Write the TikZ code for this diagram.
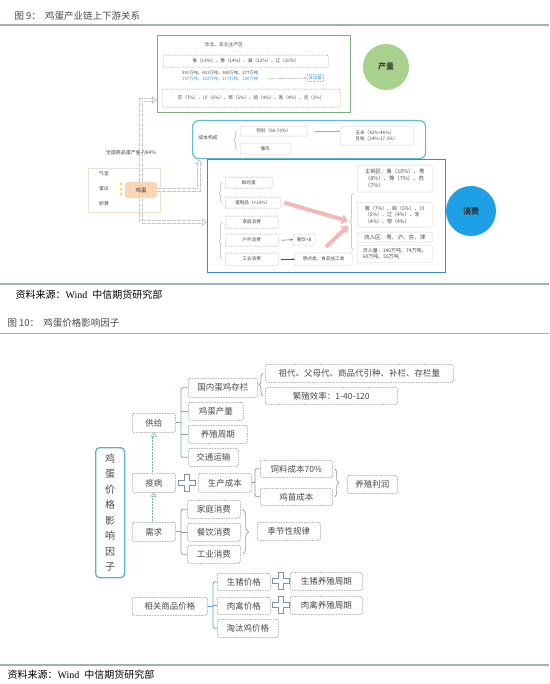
\documentclass[tikz,border=0pt]{standalone}
\usepackage{fontspec}
\setmainfont{Liberation Serif}
\newfontfamily\cjk{Noto Sans CJK SC}
\usetikzlibrary{arrows.meta,decorations.pathreplacing,positioning}

\definecolor{rulecol}{HTML}{9FB0C0}
\definecolor{boxgray}{HTML}{8F9BA5}
\definecolor{txtgray}{HTML}{4A4A4A}
\definecolor{tealc}{HTML}{5AB4C5}
\definecolor{greenbr}{HTML}{6FB98A}
\definecolor{bluebr}{HTML}{4AA8E0}
\definecolor{plusc}{HTML}{7B95A8}
\definecolor{prodgreen}{HTML}{A9D18E}
\definecolor{prodframe}{HTML}{7FB07A}
\definecolor{consblue}{HTML}{1EA0E6}
\definecolor{cyanframe}{HTML}{5BBFD0}
\definecolor{consframe}{HTML}{3A8CC8}
\definecolor{pinkarr}{HTML}{F4B8B8}
\definecolor{eggfill}{HTML}{FBD5B5}
\definecolor{flowblue}{HTML}{3A9AD9}

\tikzset{
  fbox/.style={draw=boxgray, dash pattern=on 1.6pt off 1pt, line width=0.6pt,
    rounded corners=1.5pt, inner sep=1pt, text=txtgray, anchor=north west,
    font=\cjk\fontsize{8.5}{10}\selectfont},
  sbox/.style={draw=boxgray, dash pattern=on 1pt off 0.8pt, line width=0.4pt,
    rounded corners=1pt, inner sep=1pt, text=txtgray, anchor=north west,
    font=\cjk\fontsize{4.6}{5.6}\selectfont},
  lbox/.style={draw=gray!35, line width=0.4pt, rounded corners=1pt, inner sep=1.5pt,
    text=txtgray, anchor=north west, align=left,
    font=\cjk\fontsize{4.6}{6}\selectfont},
  tiny/.style={text=txtgray, font=\cjk\fontsize{4.8}{6}\selectfont, inner sep=0pt},
  brk/.style={draw=boxgray, line width=0.8pt, rounded corners=2pt},
  brc/.style={draw=boxgray, line width=0.7pt, decorate, decoration={brace, amplitude=4pt}},
  sbrc/.style={draw=gray!60, line width=0.5pt, decorate, decoration={brace, amplitude=3pt}},
  dotarr/.style={draw=greenbr, line width=0.5pt, densely dotted, double=white,
    double distance=1.8pt, -{Triangle[open, length=4pt, width=6pt]}},
  eggarr/.style={draw=gray!45, line width=0.8pt, double=white, double distance=2.6pt,
    dash pattern=on 3.5pt off 1.5pt, -{Triangle[open, length=5pt, width=8pt]}},
  rulel/.style={draw=rulecol, line width=2pt},
  pluscross/.pic={
    \draw[plusc, line width=0.8pt] (-2.8,-8.5) -- (2.8,-8.5) -- (2.8,-2.8) -- (8.5,-2.8)
      -- (8.5,2.8) -- (2.8,2.8) -- (2.8,8.5) -- (-2.8,8.5) -- (-2.8,2.8) -- (-8.5,2.8)
      -- (-8.5,-2.8) -- (-2.8,-2.8) -- cycle;
  }
}

\begin{document}
\begin{tikzpicture}[x=1pt, y=-1pt]
\useasboundingbox[fill=white] (0,0) rectangle (549,684);

% headings and sources
\node[anchor=west, text=txtgray, font=\cjk\fontsize{9.5}{11}\selectfont] (title9) at (11,16) {图 9：\ \ 鸡蛋产业链上下游关系};
\draw[rulel] (0,25.5) -- (549,25.5);
\draw[rulel] (0,283.5) -- (549,283.5);
\node[anchor=west, font=\fontsize{10}{12}\selectfont] (src9) at (12,295) {{\cjk 资料来源：}Wind\ \ {\cjk 中信期货研究部}};
\node[anchor=west, text=txtgray, font=\cjk\fontsize{9.5}{11}\selectfont] (title10) at (4,323) {图 10：\ \ 鸡蛋价格影响因子};
\draw[draw=rulecol, line width=1pt] (0,333) -- (549,333);
\draw[rulel] (0,665) -- (549,665);
\node[anchor=west, font=\fontsize{10}{12}\selectfont] (src10) at (4,675) {{\cjk 资料来源：}Wind\ \ {\cjk 中信期货研究部}};

% ---- figure 9 ----
% production
\node[draw=prodframe, line width=1.2pt, minimum width=193, minimum height=77, anchor=north west] (prod) at (157,35) {};
\node[tiny] (prodtitle) at (224,45) {华北、东北主产区};
\node[sbox, minimum width=165, minimum height=12] (p1) at (163,55) {鲁（14\%）、豫（14\%）、冀（12\%）、辽（10\%）};
\node[tiny, anchor=west, font=\cjk\fontsize{4.3}{5}\selectfont] (p2) at (182,73) {391万吨、401万吨、340万吨、277万吨};
\node[tiny, anchor=west, text=flowblue, font=\cjk\fontsize{4.3}{5}\selectfont] (p3) at (182,79) {157万吨、162万吨、117万吨、130万吨};
\node[draw=flowblue!60, dash pattern=on 1pt off 0.8pt, line width=0.4pt, inner sep=1.5pt, text=flowblue, font=\cjk\fontsize{4.3}{5}\selectfont, anchor=west] (outflow) at (307,78) {流出量};
\draw[-{Stealth[length=2.5pt]}, draw=gray!70, line width=0.4pt] ([xshift=8pt]p3.east) -- (outflow.west);
\node[sbox, minimum width=178, minimum height=18] (p4) at (162,89) {苏（7\%）、川（6\%）、鄂（5\%）、皖（4\%）、黑（4\%）、吉（3\%）};
\node[circle, fill=prodgreen, minimum size=46, inner sep=0pt, text=black!75, font=\cjk\bfseries\fontsize{8}{9}\selectfont] (prodc) at (386,67) {产量};

% cost
\node[draw=cyanframe, line width=1.2pt, rounded corners=6pt, minimum width=233, minimum height=38, anchor=north west] (cost9) at (192,120) {};
\node[tiny] (costtitle) at (208,138) {成本构成};
\node[lbox, minimum width=67, minimum height=10] (c1) at (240,126) {饲料（60-70\%）};
\node[lbox, minimum width=50, minimum height=11] (c2) at (240,143) {雏鸡};
\node[lbox, minimum width=73, minimum height=19] (c3) at (340,126) {玉米（42\%-46\%）\\豆粕（14\%-17.5\%）};
\draw[sbrc] ([xshift=-3pt]c2.west) -- ([xshift=-3pt]c1.west);
\draw[-{Stealth[length=2.5pt]}, draw=gray!70, line width=0.4pt] ([xshift=8pt]c1.east) -- (c3.west |- c1.east);

% consumption
\node[draw=consframe, line width=1.3pt, minimum width=238, minimum height=113, anchor=north west] (cons) at (207,159) {};
\node[sbox, minimum width=47, minimum height=11] (d1) at (225,177) {鲜鸡蛋};
\node[sbox, minimum width=55, minimum height=11] (d2) at (225,197) {蛋制品（<10\%）};
\node[sbox, minimum width=53, minimum height=12] (d3) at (225,216) {家庭消费};
\node[sbox, minimum width=53, minimum height=12] (d4) at (225,234) {户外消费};
\node[sbox, minimum width=53, minimum height=12] (d5) at (225,253) {工业消费};
\node[lbox, minimum width=22, minimum height=11] (d6) at (293,234) {餐饮+B};
\node[lbox, minimum width=57, minimum height=12] (d7) at (295,253) {糕点类、食品加工类};
\draw[sbrc] ([xshift=-3pt]d2.west) -- ([xshift=-3pt]d1.west);
\draw[sbrc] ([xshift=-3pt]d5.west) -- ([xshift=-3pt]d3.west);
\draw[-{Stealth[length=2.5pt]}, draw=black!70, line width=0.4pt] ([xshift=3pt]d4.east) -- (d6.west);
\draw[-{Stealth[length=2.5pt]}, draw=black!70, line width=0.4pt] ([xshift=3pt]d5.east) -- (d7.west);
\node[lbox, minimum width=75, minimum height=27, font=\cjk\fontsize{5.4}{7}\selectfont] (r1) at (357,165) {主销区：鲁（10\%）、粤\\（8\%）、豫（7\%）、苏\\（7\%）};
\node[lbox, minimum width=75, minimum height=25, font=\cjk\fontsize{5}{6.5}\selectfont] (r2) at (357,202) {冀（7\%）、皖（5\%）、川\\（5\%）、辽（4\%）、浙\\（4\%）、鄂（4\%）};
\node[lbox, minimum width=75, minimum height=10, font=\cjk\fontsize{5.6}{6.5}\selectfont] (r3) at (357,232) {流入区：粤、沪、京、津};
\node[lbox, minimum width=75, minimum height=17, font=\cjk\fontsize{5}{6.5}\selectfont] (r4) at (357,245) {流入量：140万吨、74万吨、\\60万吨、55万吨};
\draw[sbrc] (353,250) -- (353,193);
\draw[draw=pinkarr, line width=4pt, -{Triangle[length=6pt, width=10pt]}] ([xshift=4pt]d2.east) -- (348,221);
\draw[draw=pinkarr, line width=4pt, -{Triangle[length=6pt, width=10pt]}] (326,247) -- (348,226);
\node[circle, fill=consblue, minimum size=50, inner sep=0pt, text=black!80, font=\cjk\bfseries\fontsize{8}{9}\selectfont] (consc) at (471,211) {消费};

% egg
\node[tiny, font=\cjk\fontsize{5}{6}\selectfont] (share) at (131,153) {全国商品蛋产量的84\%};
\node[draw=brown!25, line width=0.6pt, minimum width=72, minimum height=44, anchor=north west] (eggpart) at (88,168) {};
\node[tiny] (qishi) at (104,174) {气室};
\node[tiny] (danbai) at (104,189) {蛋白};
\node[tiny] (luanhuang) at (104,204) {卵黄};
\node[fill=eggfill, rounded corners=3pt, minimum width=32, minimum height=16, text=black!80, font=\cjk\fontsize{5.5}{6}\selectfont] (egg) at (141,190) {鸡蛋};
\foreach \dy in {184,189,194} \fill[yellow!80!orange] (121,\dy) circle (1.3);
\draw[eggarr] (egg.north) -- (141,100) -- (prod.west |- 0,100);
\draw[eggarr] (egg.east) -- (199,190) -- (cost9.south -| 199,0);
\draw[eggarr] (egg.south) -- (141,222) -- (cons.west |- 0,222);

% ---- figure 10 ----
\node[draw=tealc, line width=1.3pt, rounded corners=4pt, minimum width=29, minimum height=130, anchor=north west, align=center, text=black!70, font=\cjk\fontsize{10}{15.5}\selectfont] (factor) at (95,447) {鸡\\蛋\\价\\格\\影\\响\\因\\子};

\node[fbox, minimum width=43, minimum height=19] (gongji) at (132,413) {供给};
\node[fbox, minimum width=69, minimum height=19] (gn1) at (188,378) {国内蛋鸡存栏};
\node[fbox, minimum width=55, minimum height=18] (gn2) at (188,402) {鸡蛋产量};
\node[fbox, minimum width=59, minimum height=18] (gn3) at (188,425) {养殖周期};
\node[fbox, minimum width=50, minimum height=18] (gn4) at (188,448) {交通运输};
\node[fbox, minimum width=188, minimum height=18] (cl1) at (265,364) {祖代、父母代、商品代引种、补栏、存栏量};
\node[fbox, minimum width=132, minimum height=17] (cl2) at (265,387) {繁殖效率：1-40-120};

\node[fbox, minimum width=43, minimum height=19] (yibing) at (132,473) {疫病};
\pic at (187,483) {pluscross};
\node[fbox, minimum width=53, minimum height=19] (prodcost) at (198,473) {生产成本};
\node[fbox, minimum width=72, minimum height=17] (fc1) at (260,460) {饲料成本70\%};
\node[fbox, minimum width=72, minimum height=17] (fc2) at (260,488) {鸡苗成本};
\node[fbox, minimum width=50, minimum height=18] (profit) at (347,475) {养殖利润};

\node[fbox, minimum width=43, minimum height=19] (xuqiu) at (132,522) {需求};
\node[fbox, minimum width=53, minimum height=18] (dm1) at (187,500) {家庭消费};
\node[fbox, minimum width=53, minimum height=18] (dm2) at (187,523) {餐饮消费};
\node[fbox, minimum width=53, minimum height=18] (dm3) at (187,545) {工业消费};
\node[fbox, minimum width=63, minimum height=18] (season) at (257,522) {季节性规律};

\node[fbox, minimum width=75, minimum height=18] (xiangguan) at (132,597) {相关商品价格};
\node[fbox, minimum width=53, minimum height=17] (rp1) at (217,573) {生猪价格};
\node[fbox, minimum width=53, minimum height=17] (rp2) at (217,597) {肉禽价格};
\node[fbox, minimum width=61, minimum height=18] (rp3) at (217,619) {淘汰鸡价格};
\pic at (281,581) {pluscross};
\pic at (281,605) {pluscross};
\node[fbox, minimum width=72, minimum height=18] (cyc1) at (290,572) {生猪养殖周期};
\node[fbox, minimum width=72, minimum height=18] (cyc2) at (290,596) {肉禽养殖周期};

% brackets
\coordinate (spg) at (181,0);
\draw[brk, draw=greenbr] (gn1.west) -| (spg |- gongji.east) |- (gn4.west);
\draw[brk, draw=greenbr] (gongji.east) -- (spg |- gongji.east);
\draw[brk, draw=greenbr] (gn2.west) -- (spg |- gn2.west);
\draw[brk, draw=greenbr] (gn3.west) -- (spg |- gn3.west);
\draw[brc] ([xshift=-2pt]cl2.west) -- ([xshift=-2pt]cl1.west);
\draw[brk] (fc1.west) -| ([xshift=-5pt]fc1.west |- prodcost.east) |- (fc2.west);
\draw[brk] (prodcost.east) -- ([xshift=-5pt]fc1.west |- prodcost.east);
\draw[brc] ([xshift=2pt]fc1.east) -- ([xshift=2pt]fc2.east);
\coordinate (spx) at (181,0);
\draw[brk] (dm1.west) -| (spx |- xuqiu.east) |- (dm3.west);
\draw[brk] (xuqiu.east) -- (spx |- xuqiu.east);
\draw[brk] (dm2.west) -- (spx |- dm2.west);
\draw[brc, decoration={brace, amplitude=6pt}] ([xshift=2pt]dm1.east) -- ([xshift=2pt]dm3.east);
\coordinate (spr) at (213,0);
\draw[brk, draw=bluebr] (rp1.west) -| (spr |- xiangguan.east) |- (rp3.west);
\draw[brk, draw=bluebr] (xiangguan.east) -- (spr |- xiangguan.east);
\draw[brk, draw=bluebr] (rp2.west) -- (spr |- rp2.west);

% dotted links
\draw[dotarr] (yibing.north) -- (gongji.south);
\draw[dotarr] (xuqiu.north) -- (yibing.south);
\end{tikzpicture}
\end{document}
